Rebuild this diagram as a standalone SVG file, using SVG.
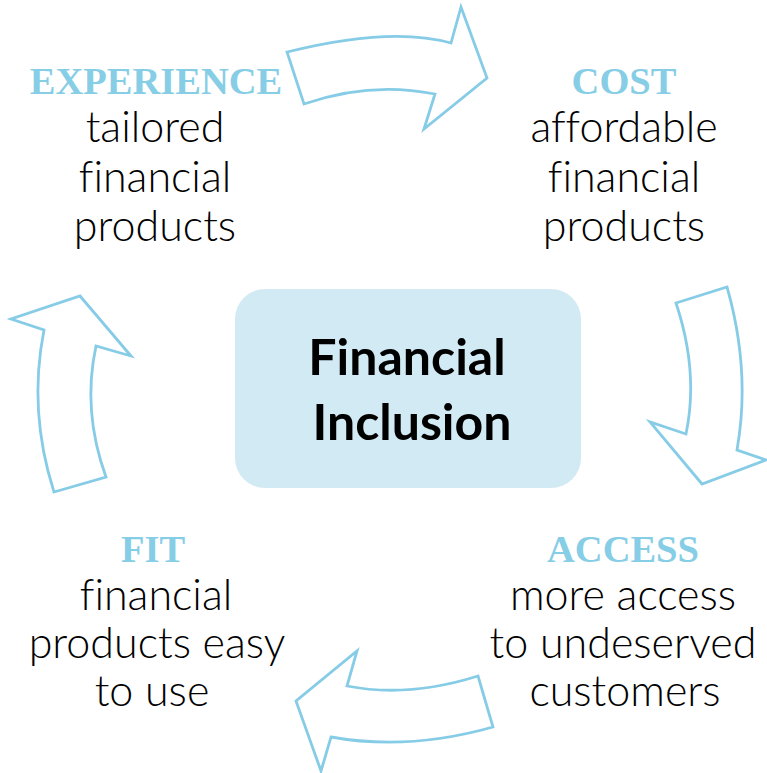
<svg xmlns="http://www.w3.org/2000/svg" width="767" height="773" viewBox="0 0 767 773">
  <style>
    .arrow { fill: #ffffff; stroke: #86cce6; stroke-width: 2.8; stroke-linejoin: miter; }
    .head { font-family: "Liberation Serif", "Times New Roman", serif; font-weight: bold; font-size: 38.5px; fill: #86cde6; text-anchor: middle; }
    .body { font-family: Lato, "Open Sans", sans-serif; font-weight: 300; font-size: 43px; fill: #000000; text-anchor: middle; font-variant-ligatures: none; }
    .core { font-family: Lato, "Open Sans", sans-serif; font-weight: bold; font-size: 50px; fill: #000000; text-anchor: middle; font-variant-ligatures: none; }
  </style>
  <rect width="767" height="773" fill="#ffffff"/>

  <!-- cycle arrows -->
  <g id="connectors">
    <path id="arrow-experience-cost" class="arrow" d="M287,52 Q391,26 451,43 L461,7 L487,78 L424,129 L435,94 Q370,81 304,104 Z"/>
    <path id="arrow-cost-access" class="arrow" d="M676,303 L727,287 Q751,371 737,450 L766,460 L702,484 L650,422 L686,434 Q699,372 676,303 Z"/>
    <path id="arrow-access-fit" class="arrow" d="M478,676 L493,727 Q408,751 331,737 L321,771 L296,701 L357,651 L347,686 Q408,698 478,676 Z"/>
    <path id="arrow-fit-experience" class="arrow" d="M54,492 L106,477 Q82,411 96,346 L131,356 L80,296 L11,319 L44,330 Q28,411 54,492 Z"/>
  </g>

  <!-- central node -->
  <g id="financial-inclusion">
    <rect x="235" y="289" width="346" height="199" rx="30" ry="30" fill="#d2eaf4"/>
    <text class="core" x="407" y="375">Financial</text>
    <text class="core" x="412" y="440">Inclusion</text>
  </g>

  <g id="experience">
    <text class="head" x="156" y="94">EXPERIENCE</text>
    <text class="body" x="155" y="142">tailored</text>
    <text class="body" x="155" y="192">financial</text>
    <text class="body" x="155" y="241">products</text>
  </g>

  <g id="cost">
    <text class="head" x="624" y="94">COST</text>
    <text class="body" x="624" y="142">affordable</text>
    <text class="body" x="624" y="192">financial</text>
    <text class="body" x="624" y="241">products</text>
  </g>

  <g id="access">
    <text class="head" x="623" y="562">ACCESS</text>
    <text class="body" x="623" y="610">more access</text>
    <text class="body" x="623" y="658">to undeserved</text>
    <text class="body" x="625" y="706">customers</text>
  </g>

  <g id="fit">
    <text class="head" x="153" y="562">FIT</text>
    <text class="body" x="156" y="610">financial</text>
    <text class="body" x="157" y="658">products easy</text>
    <text class="body" x="152" y="706">to use</text>
  </g>
</svg>
